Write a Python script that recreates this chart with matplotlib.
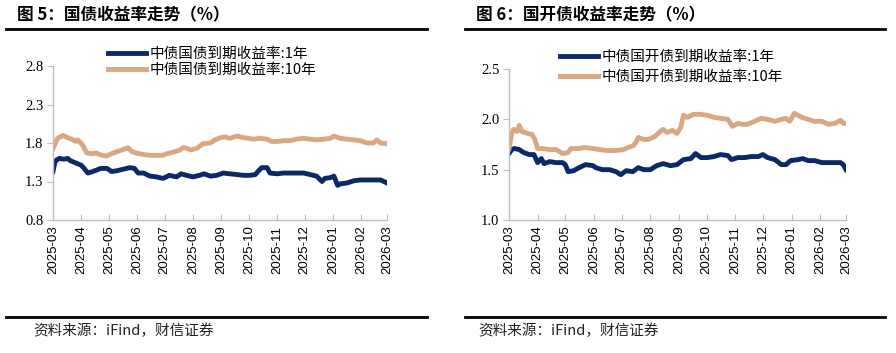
import pandas as pd
import matplotlib
matplotlib.use('Agg')
from matplotlib import pyplot as plt
import matplotlib.dates as mdates

# ---- data ----
gz10_dates = ['2025-03-01', '2025-03-06', '2025-03-12', '2025-03-15', '2025-03-19', '2025-03-23',
              '2025-03-26', '2025-03-28', '2025-04-02', '2025-04-07', '2025-04-14', '2025-04-17',
              '2025-04-21', '2025-04-28', '2025-05-06', '2025-05-13', '2025-05-20', '2025-05-22',
              '2025-05-26', '2025-05-31', '2025-06-08', '2025-06-15', '2025-06-22', '2025-06-29',
              '2025-07-03', '2025-07-10', '2025-07-18', '2025-07-21', '2025-07-25', '2025-07-30',
              '2025-08-05', '2025-08-12', '2025-08-20', '2025-08-25', '2025-08-31', '2025-09-05',
              '2025-09-10', '2025-09-18', '2025-09-25', '2025-10-01', '2025-10-06', '2025-10-13',
              '2025-10-21', '2025-10-26', '2025-11-01', '2025-11-08', '2025-11-15', '2025-11-22',
              '2025-11-30', '2025-12-07', '2025-12-14', '2025-12-22', '2025-12-29', '2026-01-02',
              '2026-01-09', '2026-01-16', '2026-01-24', '2026-01-31', '2026-02-07', '2026-02-14',
              '2026-02-18', '2026-02-22', '2026-03-01']
gz10 = [1.73, 1.86, 1.90, 1.88, 1.86, 1.84, 1.82, 1.84, 1.78, 1.67, 1.66, 1.67,
        1.65, 1.63, 1.67, 1.70, 1.73, 1.74, 1.69, 1.67, 1.65, 1.64, 1.64, 1.64,
        1.66, 1.68, 1.71, 1.74, 1.73, 1.71, 1.73, 1.79, 1.80, 1.84, 1.87, 1.88,
        1.86, 1.89, 1.87, 1.86, 1.85, 1.86, 1.85, 1.82, 1.82, 1.83, 1.83, 1.85,
        1.86, 1.85, 1.84, 1.85, 1.86, 1.89, 1.86, 1.85, 1.84, 1.83, 1.80, 1.80,
        1.84, 1.80, 1.79]

gz1_dates = ['2025-03-01', '2025-03-03', '2025-03-05', '2025-03-08', '2025-03-13', '2025-03-17',
             '2025-03-20', '2025-03-26', '2025-04-01', '2025-04-04', '2025-04-08', '2025-04-11',
             '2025-04-18', '2025-04-22', '2025-04-29', '2025-05-04', '2025-05-10', '2025-05-17',
             '2025-05-24', '2025-05-29', '2025-06-02', '2025-06-08', '2025-06-15', '2025-06-22',
             '2025-06-29', '2025-07-03', '2025-07-06', '2025-07-14', '2025-07-19', '2025-07-25',
             '2025-08-01', '2025-08-08', '2025-08-13', '2025-08-20', '2025-08-27', '2025-09-03',
             '2025-09-10', '2025-09-18', '2025-09-25', '2025-10-02', '2025-10-08', '2025-10-11',
             '2025-10-15', '2025-10-21', '2025-10-24', '2025-11-01', '2025-11-08', '2025-11-15',
             '2025-11-22', '2025-11-30', '2025-12-07', '2025-12-14', '2025-12-20', '2025-12-23',
             '2025-12-29', '2026-01-02', '2026-01-06', '2026-01-09', '2026-01-16', '2026-01-24',
             '2026-01-31', '2026-02-07', '2026-02-14', '2026-02-22', '2026-03-01']
gz1 = [1.43, 1.55, 1.58, 1.60, 1.59, 1.60, 1.57, 1.54, 1.51, 1.47, 1.41, 1.42,
       1.45, 1.47, 1.47, 1.43, 1.44, 1.46, 1.48, 1.47, 1.41, 1.41, 1.37, 1.36,
       1.34, 1.36, 1.38, 1.36, 1.40, 1.38, 1.36, 1.38, 1.40, 1.37, 1.38, 1.41,
       1.40, 1.39, 1.38, 1.38, 1.39, 1.43, 1.48, 1.48, 1.41, 1.40, 1.41, 1.41,
       1.41, 1.41, 1.39, 1.37, 1.30, 1.34, 1.35, 1.37, 1.25, 1.27, 1.28, 1.31,
       1.32, 1.32, 1.32, 1.32, 1.28]

gk10_dates = ['2025-03-01', '2025-03-04', '2025-03-06', '2025-03-10', '2025-03-12', '2025-03-15',
              '2025-03-21', '2025-03-26', '2025-03-29', '2025-04-01', '2025-04-06', '2025-04-14',
              '2025-04-21', '2025-04-28', '2025-05-04', '2025-05-07', '2025-05-15', '2025-05-22',
              '2025-05-31', '2025-06-07', '2025-06-15', '2025-06-25', '2025-07-03', '2025-07-08',
              '2025-07-14', '2025-07-17', '2025-07-19', '2025-07-25', '2025-07-30', '2025-08-06',
              '2025-08-12', '2025-08-15', '2025-08-19', '2025-08-25', '2025-08-30', '2025-09-03',
              '2025-09-06', '2025-09-10', '2025-09-17', '2025-09-24', '2025-10-02', '2025-10-09',
              '2025-10-16', '2025-10-24', '2025-10-29', '2025-11-04', '2025-11-09', '2025-11-14',
              '2025-11-22', '2025-11-29', '2025-12-06', '2025-12-14', '2025-12-21', '2025-12-26',
              '2025-12-30', '2026-01-04', '2026-01-12', '2026-01-19', '2026-01-26', '2026-02-03',
              '2026-02-10', '2026-02-17', '2026-02-23', '2026-02-26', '2026-03-01']
gk10 = [1.71, 1.86, 1.90, 1.88, 1.94, 1.88, 1.86, 1.85, 1.80, 1.71, 1.71, 1.70,
        1.70, 1.66, 1.67, 1.71, 1.71, 1.72, 1.71, 1.70, 1.69, 1.69, 1.70, 1.72,
        1.74, 1.78, 1.82, 1.80, 1.80, 1.83, 1.88, 1.90, 1.87, 1.89, 1.86, 1.92,
        2.04, 2.02, 2.05, 2.05, 2.04, 2.02, 2.01, 2.00, 1.93, 1.96, 1.95, 1.95,
        1.98, 2.01, 2.00, 1.98, 2.00, 2.01, 1.98, 2.06, 2.02, 2.00, 1.98, 1.98,
        1.95, 1.96, 1.99, 1.96, 1.96]

gk1_dates = ['2025-03-01', '2025-03-04', '2025-03-07', '2025-03-12', '2025-03-17', '2025-03-23',
             '2025-03-28', '2025-04-01', '2025-04-05', '2025-04-08', '2025-04-14', '2025-04-21',
             '2025-04-28', '2025-05-01', '2025-05-04', '2025-05-10', '2025-05-16', '2025-05-23',
             '2025-05-31', '2025-06-03', '2025-06-10', '2025-06-18', '2025-06-25', '2025-06-30',
             '2025-07-06', '2025-07-13', '2025-07-19', '2025-07-25', '2025-08-01', '2025-08-08',
             '2025-08-15', '2025-08-23', '2025-08-30', '2025-09-06', '2025-09-14', '2025-09-19',
             '2025-09-25', '2025-10-02', '2025-10-09', '2025-10-16', '2025-10-24', '2025-10-28',
             '2025-11-04', '2025-11-11', '2025-11-18', '2025-11-26', '2025-12-01', '2025-12-06',
             '2025-12-14', '2025-12-21', '2025-12-26', '2025-12-31', '2026-01-08', '2026-01-13',
             '2026-01-19', '2026-01-26', '2026-02-03', '2026-02-10', '2026-02-17', '2026-02-23',
             '2026-02-26', '2026-03-01']
gk1 = [1.66, 1.70, 1.71, 1.70, 1.67, 1.65, 1.65, 1.57, 1.61, 1.56, 1.58, 1.57,
       1.57, 1.55, 1.48, 1.49, 1.52, 1.55, 1.54, 1.52, 1.50, 1.50, 1.48, 1.45,
       1.49, 1.48, 1.52, 1.50, 1.50, 1.54, 1.56, 1.54, 1.55, 1.60, 1.61, 1.66,
       1.62, 1.62, 1.63, 1.65, 1.64, 1.60, 1.62, 1.62, 1.63, 1.63, 1.65, 1.62,
       1.60, 1.55, 1.55, 1.59, 1.60, 1.61, 1.59, 1.59, 1.57, 1.57, 1.57, 1.57,
       1.55, 1.50]

titles = ['图 5：国债收益率走势（%）', '图 6：国开债收益率走势（%）']
labels_left = ['中债国债到期收益率:1年', '中债国债到期收益率:10年']
labels_right = ['中债国开债到期收益率:1年', '中债国开债到期收益率:10年']
source = '资料来源：iFind，财信证券'

navy = '#0B2867'
tan = '#D9A883'
axis_grey = '#BFBFBF'
cjk = ['Noto Sans CJK SC', 'DejaVu Sans']

fig = plt.figure(figsize=(8.96, 3.53), dpi=100)

ax1 = fig.add_axes([53/896, 1-220/353, (387-53)/896, (220-66)/353])
ax2 = fig.add_axes([509/896, 1-220/353, (846-509)/896, (220-69)/353])


def style_axis(ax, ylim, yticks):
    ax.set_xlim(pd.Timestamp('2025-03-01'), pd.Timestamp('2026-03-01'))
    ax.set_ylim(*ylim)
    ax.set_yticks(yticks)
    ax.yaxis.set_major_formatter(plt.FormatStrFormatter('%.1f'))
    ax.xaxis.set_major_locator(mdates.MonthLocator())
    ax.xaxis.set_major_formatter(mdates.DateFormatter('%Y-%m'))
    for s in ['top', 'right']:
        ax.spines[s].set_visible(False)
    for s in ['left', 'bottom']:
        ax.spines[s].set_color(axis_grey)
        ax.spines[s].set_linewidth(1.0)
    ax.tick_params(axis='x', direction='in', length=4, color=axis_grey, pad=4)
    ax.tick_params(axis='y', direction='out', length=4, color=axis_grey, pad=3)
    for lab in ax.get_xticklabels():
        lab.set_rotation(90)
        lab.set_fontfamily('Liberation Sans')
        lab.set_fontsize(9.5)
    for lab in ax.get_yticklabels():
        lab.set_fontfamily('Liberation Serif')
        lab.set_fontsize(10.5)


# left panel: 国债
ax1.plot(pd.to_datetime(gz1_dates), gz1, color=navy, lw=3.5, label=labels_left[0], solid_joinstyle='round')
ax1.plot(pd.to_datetime(gz10_dates), gz10, color=tan, lw=3.5, label=labels_left[1], solid_joinstyle='round')
style_axis(ax1, (0.8, 2.8), [0.8, 1.3, 1.8, 2.3, 2.8])
ax1.legend(loc='upper left', bbox_to_anchor=(108/896, 1-47/353), bbox_transform=fig.transFigure,
           frameon=False, prop={'family': cjk, 'size': 10.5}, handlelength=2.6,
           handletextpad=0.25, borderpad=0, borderaxespad=0, labelspacing=0.15)

# right panel: 国开债
ax2.plot(pd.to_datetime(gk1_dates), gk1, color=navy, lw=3.5, label=labels_right[0], solid_joinstyle='round')
ax2.plot(pd.to_datetime(gk10_dates), gk10, color=tan, lw=3.5, label=labels_right[1], solid_joinstyle='round')
style_axis(ax2, (1.0, 2.5), [1.0, 1.5, 2.0, 2.5])
ax2.legend(loc='upper left', bbox_to_anchor=(560/896, 1-50/353), bbox_transform=fig.transFigure,
           frameon=False, prop={'family': cjk, 'size': 10.5}, handlelength=2.6,
           handletextpad=0.25, borderpad=0, borderaxespad=0, labelspacing=0.4)

# titles, rules and source notes
for x0, x1, tx, sx, t in [(6, 427, 17, 33, titles[0]), (465, 885, 476, 478, titles[1])]:
    fig.text(tx/896, 1-15/353, t, family=cjk, fontsize=12, fontweight='bold', va='center')
    fig.add_artist(plt.Line2D([x0/896, x1/896], [1-29/353, 1-29/353], color='black', lw=2))
    fig.add_artist(plt.Line2D([x0/896, x1/896], [1-317/353, 1-317/353], color='black', lw=2))
    fig.text(sx/896, 1-331/353, source, family=cjk, fontsize=10.5, style='italic',
             va='center', color='#222222')

fig.savefig('out.png', dpi=100)
